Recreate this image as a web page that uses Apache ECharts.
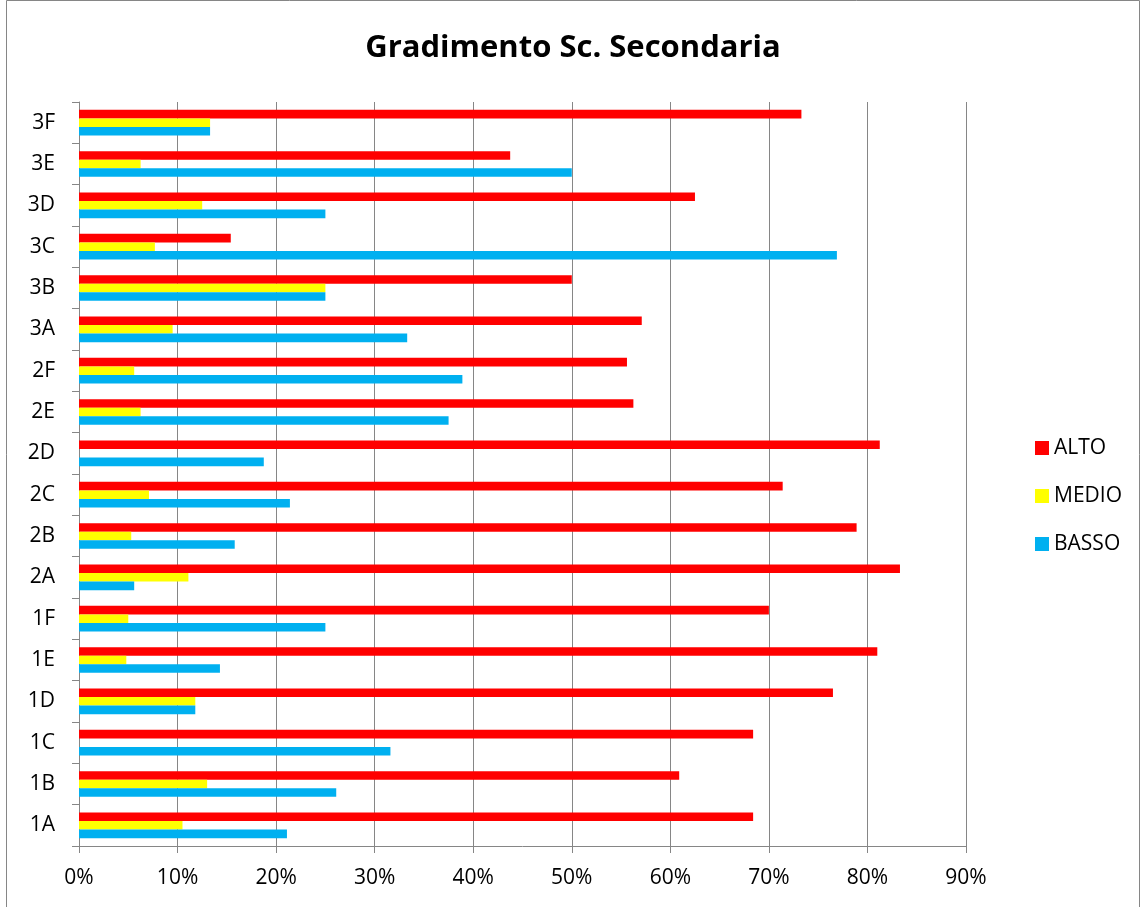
<!DOCTYPE html>
<html lang="it">
<head>
    <meta charset="UTF-8">
    <title>Gradimento Sc. Secondaria</title>
    <script src="https://cdn.jsdelivr.net/npm/echarts@6/dist/echarts.min.js"></script>
    <style>
        body { margin: 0; background: #ffffff; }
        #chart { width: 1146px; height: 907px; }
    </style>
</head>
<body>
<div id="chart"></div>
<script>
// classi, dal basso verso l'alto
var classi = ['1A', '1B', '1C', '1D', '1E', '1F', '2A', '2B', '2C', '2D', '2E', '2F', '3A', '3B', '3C', '3D', '3E', '3F'];
var alto  = [68.4, 60.9, 68.4, 76.5, 81.0, 70.0, 83.3, 78.9, 71.4, 81.25, 56.25, 55.6, 57.1, 50.0, 15.4, 62.5, 43.75, 73.3];
var medio = [10.5, 13.0, 0, 11.8, 4.8, 5.0, 11.1, 5.3, 7.1, 0, 6.25, 5.6, 9.5, 25.0, 7.7, 12.5, 6.25, 13.3];
var basso = [21.1, 26.1, 31.6, 11.8, 14.3, 25.0, 5.6, 15.8, 21.4, 18.75, 37.5, 38.9, 33.3, 25.0, 76.9, 25.0, 50.0, 13.3];

var font = 'Open Sans';
var chart = echarts.init(document.getElementById('chart'));

chart.setOption({
    animation: false,
    title: {
        text: 'Gradimento Sc. Secondaria',
        left: 'center',
        top: 28,
        textStyle: { fontFamily: font, fontSize: 31, fontWeight: 'bold', color: '#000' }
    },
    legend: {
        orient: 'vertical',
        left: 1030,
        top: 431,
        itemWidth: 14,
        itemHeight: 14,
        itemGap: 24,
        icon: 'rect',
        textStyle: { fontFamily: font, fontSize: 21, color: '#000', lineHeight: 24 },
        data: ['ALTO', 'MEDIO', 'BASSO']
    },
    grid: { left: 79, right: 180, top: 102, bottom: 61 },
    xAxis: {
        type: 'value',
        min: 0,
        max: 90,
        interval: 10,
        axisLine: { show: true, lineStyle: { color: '#868686' } },
        axisTick: { show: true, length: 7, lineStyle: { color: '#868686' } },
        axisLabel: { formatter: '{value}%', fontFamily: font, fontSize: 21, color: '#000', margin: 22 },
        splitLine: { show: true, lineStyle: { color: '#868686', width: 1 } }
    },
    yAxis: {
        type: 'category',
        data: classi,
        axisLine: { show: true, lineStyle: { color: '#868686' } },
        axisTick: { show: true, length: 7, lineStyle: { color: '#868686' } },
        axisLabel: { fontFamily: font, fontSize: 21, color: '#000', margin: 24 },
        splitLine: { show: false }
    },
    series: [
        { name: 'ALTO', type: 'bar', data: alto, itemStyle: { color: '#ff0000' }, barGap: '0%', barCategoryGap: '38%' },
        { name: 'MEDIO', type: 'bar', data: medio, itemStyle: { color: '#ffff00' } },
        { name: 'BASSO', type: 'bar', data: basso, itemStyle: { color: '#00b0f0' } }
    ],
    graphic: [{
        type: 'rect',
        shape: { x: 6.5, y: 0.5, width: 1133, height: 920 },
        style: { fill: null, stroke: '#868686', lineWidth: 1 },
        silent: true
    }]
});
</script>
</body>
</html>
